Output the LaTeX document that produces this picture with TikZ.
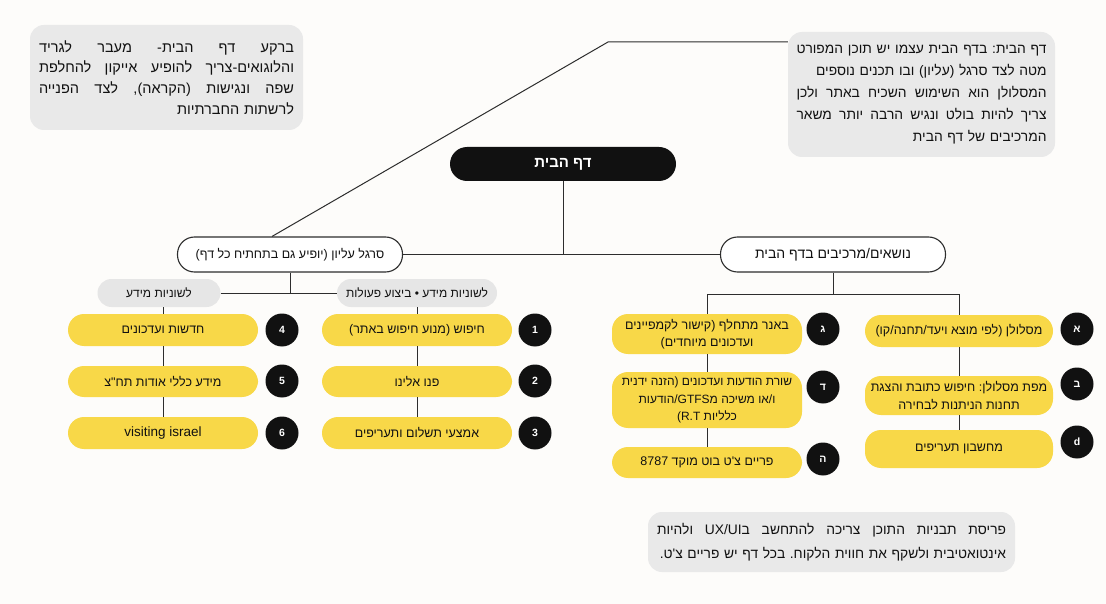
\documentclass[tikz,border=0pt]{standalone}
\usepackage{fontspec}
\usepackage{xcolor}
\usepackage{tikz}
\usetikzlibrary{positioning}
\TeXXeTstate=1
\frenchspacing
\newfontfamily\heb[Script=Hebrew]{Liberation Sans}
\newcommand\spread{\spaceskip=0.25em plus 1fil\relax}
\newcommand\fullline[2]{\leavevmode\hbox to #1{\spread #2}}

\definecolor{pageBg}{RGB}{253,252,250}
\definecolor{noteGray}{RGB}{233,233,233}
\definecolor{tabGray}{RGB}{230,230,230}
\definecolor{pillYellow}{RGB}{248,216,72}
\definecolor{inkBlack}{RGB}{17,17,17}
\definecolor{lineGray}{RGB}{45,45,45}

\tikzset{
  note/.style={fill=noteGray, rounded corners=14pt, inner sep=0pt, text=inkBlack,
    align=right, font=\heb\fontsize{14.5}{20.7}\selectfont},
  root/.style={fill=inkBlack, text=white, rounded corners=17pt, minimum width=226pt,
    minimum height=34pt, inner sep=0pt, font=\heb\bfseries\fontsize{15}{18}\selectfont},
  branch/.style={draw=lineGray, line width=1.1pt, fill=white, rounded corners=17pt,
    minimum width=225pt, minimum height=35pt, inner sep=0pt, text=inkBlack,
    font=\heb\fontsize{12.5}{14}\selectfont},
  tab/.style={fill=tabGray, rounded corners=14pt, minimum height=28pt, inner sep=0pt,
    text=inkBlack, font=\heb\fontsize{12}{14}\selectfont},
  pill/.style={fill=pillYellow, rounded corners=16pt, minimum width=190pt, inner sep=0pt,
    text=inkBlack, align=center, font=\heb\fontsize{12.5}{17.5}\selectfont},
  badge/.style={circle, fill=inkBlack, text=white, minimum size=33pt, inner sep=0pt,
    font=\heb\bfseries\fontsize{10.5}{12}\selectfont},
  link/.style={draw=lineGray, line width=1pt},
}

\begin{document}
\begin{tikzpicture}[x=1pt,y=-1pt]
\fill[pageBg] (0,0) rectangle (1106,604);
\useasboundingbox (0,0) rectangle (1106,604);

% side notes
\node[note, minimum width=273pt, minimum height=105pt, text width=255pt] (noteTop) at (166.5,77.5)
  {\fullline{255pt}{\beginR ברקע דף הבית- מעבר לגריד\endR}\\
   \fullline{255pt}{\beginR והלוגואים-צריך להופיע אייקון להחלפת\endR}\\
   \fullline{255pt}{\beginR שפה ונגישות (הקראה), לצד הפנייה\endR}\\
   \beginR לרשתות החברתיות\endR};
\node[note, minimum width=267pt, minimum height=125pt, text width=250pt,
  font=\heb\fontsize{13.8}{22.2}\selectfont] (noteSide) at (921.5,94.5)
  {\fullline{250pt}{\beginR דף הבית: בדף הבית עצמו יש תוכן המפורט\endR}\\
   \beginR מטה לצד סרגל (עליון) ובו תכנים נוספים\endR\\
   \fullline{250pt}{\beginR המסלולן הוא השימוש השכיח באתר ולכן\endR}\\
   \fullline{250pt}{\beginR צריך להיות בולט ונגיש הרבה יותר משאר\endR}\\
   \beginR המרכיבים של דף הבית\endR};
\node[note, minimum width=367pt, minimum height=60pt, text width=349pt,
  font=\heb\fontsize{13.8}{23.5}\selectfont] (noteBottom) at (831.5,542)
  {\fullline{349pt}{\beginR פריסת תבניות התוכן צריכה להתחשב בUX/UI ולהיות\endR}\\
   \beginR אינטואטיבית ולשקף את חווית הלקוח. בכל דף יש פריים צ'ט.\endR};

% main levels
\node[root] (root) at (563,164) {\beginR דף הבית\endR};
\node[branch] (topbar) at (290,254.5) {\beginR סרגל עליון (יופיע גם בתחתיח כל דף)\endR};
\node[branch, font=\heb\fontsize{14}{16}\selectfont] (topics) at (833,254.5) {\beginR נושאים/מרכיבים בדף הבית\endR};

\draw[link] (root.south) -- (root.south |- topics.west);
\draw[link] (topbar.east) -- (topics.west);
\coordinate (kink) at (608,42);
\draw[link] ([xshift=-18pt]topbar.north) -- (kink) -- (kink -| noteSide.west);

% top bar tabs
\node[tab, minimum width=123pt] (tabInfo) at (159,293) {\beginR לשוניות מידע\endR};
\node[tab, minimum width=160pt] (tabAct) at (417,293) {\beginR לשוניות מידע • ביצוע פעולות\endR};
\draw[link] (topbar.south) -- (topbar.south |- tabInfo.east);
\draw[link] (tabInfo.east) -- (tabAct.west);

\node[pill, minimum height=32pt] (news) at (163,330) {\beginR חדשות ועדכונים\endR};
\node[pill, minimum height=31pt] (general) at (163,381.5) {\beginR מידע כללי אודות תח"צ\endR};
\node[pill, minimum height=32pt, font=\heb\fontsize{13.5}{15}\selectfont] (visit) at (163,433) {visiting israel};
\draw[link] (news.north |- tabInfo.south) -- (news.north);
\draw[link] (news) -- (general) -- (visit);

\node[pill, minimum height=32pt] (search) at (417,330) {\beginR חיפוש (מנוע חיפוש באתר)\endR};
\node[pill, minimum height=31pt] (contact) at (417,381.5) {\beginR פנו אלינו\endR};
\node[pill, minimum height=32pt] (pay) at (417,433) {\beginR אמצעי תשלום ותעריפים\endR};
\draw[link] (tabAct) -- (search) -- (contact) -- (pay);

\node[badge] (b4) at (282,330) {4};
\node[badge] (b5) at (282,381) {5};
\node[badge] (b6) at (282,433) {6};
\node[badge] (b1) at (535,330) {1};
\node[badge] (b2) at (535,381) {2};
\node[badge] (b3) at (535,433) {3};

% home page parts
\coordinate (forkL) at (707,294);
\coordinate (forkR) at (959,294);
\draw[link] (topics.south) -- (topics.south |- forkL);
\draw[link] (forkL) -- (forkR);

\node[pill, minimum height=40pt] (banner) at (707,334)
  {\beginR באנר מתחלף (קישור לקמפיינים\endR\\\beginR ועדכונים מיוחדים)\endR};
\node[pill, minimum height=56pt, font=\heb\fontsize{12}{17.5}\selectfont] (alerts) at (707,400)
  {\beginR שורת הודעות ועדכונים (הזנה ידנית\endR\\\beginR ו/או משיכה מGTFS/הודעות\endR\\\beginR כלליות R.T\kern0pt)\endR};
\node[pill, minimum height=31pt] (chat) at (707,462.5) {\beginR פריים צ'ט בוט מוקד 8787\endR};
\draw[link] (forkL) -- (banner) -- (alerts) -- (chat);

\node[pill, minimum width=188pt, minimum height=32pt] (route) at (959,331)
  {\beginR מסלולן (לפי מוצא ויעד/תחנה/קו)\endR};
\node[pill, minimum width=188pt, minimum height=39pt] (routemap) at (959,395.5)
  {\beginR מפת מסלולן: חיפוש כתובת והצגת\endR\\\beginR תחנות הניתנות לבחירה\endR};
\node[pill, minimum width=188pt, minimum height=38pt] (fares) at (959,449) {\beginR מחשבון תעריפים\endR};
\draw[link] (forkR) -- (route) -- (routemap) -- (fares);

\node[badge] (bg) at (823,329) {ג};
\node[badge] (bd) at (823,387) {ד};
\node[badge] (bh) at (823,459) {ה};
\node[badge] (ba) at (1077,329) {א};
\node[badge] (bb) at (1077,384) {ב};
\node[badge] (bx) at (1077,442) {d};
\end{tikzpicture}
\end{document}
